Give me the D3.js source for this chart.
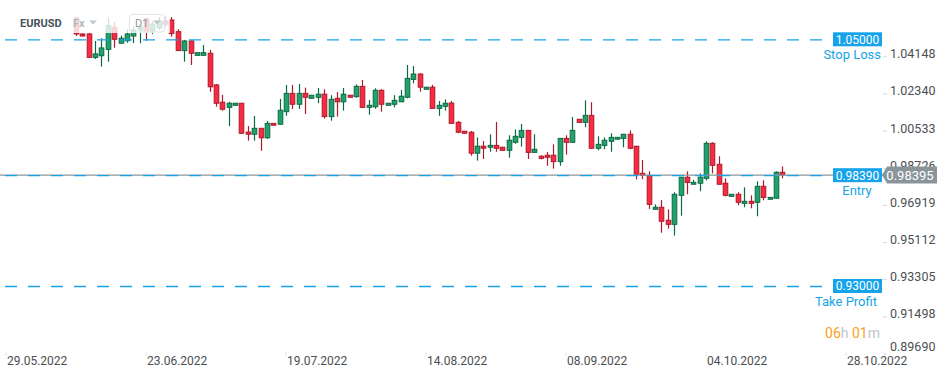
<!DOCTYPE html>
<html>
<head>
<meta charset="utf-8">
<script src="https://cdn.jsdelivr.net/npm/d3@7"></script>
<style>
  body { margin: 0; background: #fff; }
  #chart { width: 949px; height: 378px; }
  text { font-family: Roboto, "Noto Sans", sans-serif; }
</style>
</head>
<body>
<div id="chart"></div>
<script>

/*
DATA (EURUSD, D1 candles)
*/
const symbol = "EURUSD";
const timeframe = "D1";

const open = [1.0604,1.0526,1.0526,1.0412,1.0420,1.0451,1.0558,1.0481,1.0493,1.0516,1.0545,1.0599,1.0540,1.0555,1.0589,1.0594,1.0537,1.0445,1.0492,1.0422,
  1.0422,1.0432,1.0278,1.0194,1.0169,1.0179,1.0189,1.0049,1.0038,1.0067,1.0021,1.0091,1.0087,1.0148,1.0237,1.0184,1.0237,1.0213,1.0218,1.0233,
  1.0124,1.0213,1.0196,1.0228,1.0221,1.0271,1.0169,1.0172,1.0252,1.0179,1.0184,1.0196,1.0218,1.0305,1.0331,1.0257,1.0267,1.0164,1.0174,1.0190,
  1.0096,1.0053,1.0048,0.9946,0.9980,0.9975,0.9984,0.9975,0.9960,0.9999,1.0023,1.0057,0.9950,0.9931,0.9936,0.9936,0.9905,1.0018,0.9999,1.0111,
  1.0096,1.0130,0.9970,0.9984,1.0004,1.0014,1.0018,1.0038,0.9980,0.9848,0.9838,0.9673,0.9683,0.9620,0.9600,0.9741,0.9829,0.9795,0.9800,0.9824,
  0.9994,0.9892,0.9800,0.9736,0.9746,0.9702,0.9712,0.9707,0.9785,0.9722,0.9727,0.9853];

const high = [1.0608,1.0528,1.0531,1.0492,1.0505,1.0605,1.0583,1.0518,1.0550,1.0565,1.0570,1.0604,1.0589,1.0608,1.0613,1.0608,1.0549,1.0497,1.0494,1.0436,
  1.0472,1.0448,1.0283,1.0229,1.0196,1.0190,1.0190,1.0078,1.0127,1.0069,1.0103,1.0093,1.0210,1.0278,1.0278,1.0283,1.0265,1.0229,1.0263,1.0257,
  1.0228,1.0244,1.0263,1.0229,1.0281,1.0302,1.0205,1.0262,1.0257,1.0190,1.0228,1.0253,1.0375,1.0370,1.0335,1.0268,1.0278,1.0200,1.0208,1.0200,
  1.0103,1.0054,1.0054,1.0023,1.0005,1.0038,1.0098,0.9976,1.0033,1.0062,1.0088,1.0059,1.0038,0.9936,0.9952,0.9989,1.0020,1.0033,1.0122,1.0112,
  1.0203,1.0194,1.0028,1.0023,1.0043,1.0025,1.0040,1.0057,0.9981,0.9913,0.9858,0.9697,0.9718,0.9673,0.9756,0.9830,0.9858,0.9816,0.9848,1.0004,
  0.9999,0.9931,0.9824,0.9748,0.9756,0.9780,0.9741,0.9809,0.9814,0.9733,0.9858,0.9882];

const low = [1.0516,1.0514,1.0411,1.0404,1.0367,1.0391,1.0459,1.0480,1.0483,1.0482,1.0481,1.0493,1.0526,1.0545,1.0560,1.0513,1.0443,1.0391,1.0375,1.0421,
  1.0421,1.0245,1.0172,1.0153,1.0078,1.0178,1.0039,1.0007,1.0007,0.9958,1.0015,1.0081,1.0086,1.0128,1.0161,1.0161,1.0137,1.0212,1.0189,1.0114,
  1.0104,1.0124,1.0153,1.0217,1.0216,1.0168,1.0133,1.0162,1.0148,1.0178,1.0169,1.0195,1.0213,1.0286,1.0245,1.0256,1.0163,1.0128,1.0153,1.0090,
  1.0043,1.0042,0.9934,0.9910,0.9918,0.9953,0.9953,0.9959,0.9924,0.9992,0.9978,0.9918,0.9949,0.9916,0.9885,0.9871,0.9885,0.9939,0.9998,1.0095,
  1.0072,0.9969,0.9960,0.9965,0.9953,1.0013,0.9975,0.9965,0.9819,0.9819,0.9675,0.9672,0.9559,0.9579,0.9545,0.9642,0.9746,0.9794,0.9761,0.9814,
  0.9848,0.9794,0.9736,0.9735,0.9693,0.9683,0.9678,0.9639,0.9717,0.9721,0.9726,0.9824];

const close = [1.0526,1.0516,1.0412,1.0429,1.0458,1.0566,1.0500,1.0505,1.0526,1.0545,1.0560,1.0536,1.0574,1.0589,1.0574,1.0528,1.0445,1.0492,1.0432,1.0435,
  1.0435,1.0269,1.0189,1.0160,1.0189,1.0189,1.0043,1.0038,1.0067,1.0021,1.0091,1.0082,1.0155,1.0237,1.0184,1.0237,1.0218,1.0228,1.0233,1.0124,
  1.0208,1.0196,1.0233,1.0218,1.0271,1.0169,1.0179,1.0252,1.0184,1.0189,1.0203,1.0223,1.0310,1.0331,1.0267,1.0267,1.0164,1.0179,1.0189,1.0091,
  1.0048,1.0043,0.9946,0.9980,0.9970,0.9984,0.9970,0.9960,1.0009,1.0028,1.0057,0.9950,0.9965,0.9921,0.9926,0.9905,1.0018,0.9999,1.0057,1.0096,
  1.0130,0.9970,0.9989,1.0009,1.0023,1.0023,1.0038,0.9970,0.9843,0.9838,0.9697,0.9683,0.9615,0.9600,0.9746,0.9829,0.9804,0.9804,0.9829,0.9994,
  0.9887,0.9795,0.9741,0.9746,0.9707,0.9712,0.9702,0.9785,0.9731,0.9731,0.9853,0.9840];

// bar offsets (from first candle) where a date label sits, and the labels
const dateTickBars = [-11, 11, 33, 55, 77, 99, 121];
const dateTickLabels = ["29.05.2022", "23.06.2022", "19.07.2022", "14.08.2022", "08.09.2022", "04.10.2022", "28.10.2022"];

const priceTicks = [1.04148, 1.02340, 1.00533, 0.98726, 0.96919, 0.95112, 0.93305, 0.91498, 0.89690];

const levelPrices = [1.05000, 0.98390, 0.93000];
const levelNames = ["Stop Loss", "Entry", "Take Profit"];

const currentPrice = 0.98395;
const timerHours = "06";
const timerMinutes = "01";

/*
DIMENSIONS AND SVG
*/
const width = 949;
const height = 378;
const axisX = 883;

const svg = d3.select("#chart")
    .append("svg")
    .attr("width", width)
    .attr("height", height);

const candles = open.map(function(o, i) {
    return {i: i, open: o, high: high[i], low: low[i], close: close[i]};
});

/*
SCALES
*/
const xScale = d3.scaleLinear()
    .domain([-11, 121])
    .range([6, 846]);

const yScale = d3.scaleLinear()
    .domain([1.05, 0.93])
    .range([39.3, 286]);

const fmt = d3.format(".5f");

const blue = "#16a3e9";
const upFill = "#21a26c", upLine = "#0b6a42";
const downFill = "#f72c43", downLine = "#b0182b";

/*
PRICE AXIS (right)
*/
const yAxis = svg.append("g").attr("class", "axis");

yAxis.selectAll("line")
    .data(priceTicks)
    .enter()
    .append("line")
    .attr("x1", axisX).attr("x2", axisX + 4)
    .attr("y1", function(d) { return yScale(d); })
    .attr("y2", function(d) { return yScale(d); })
    .attr("stroke", "#d4d8db");

yAxis.selectAll("text")
    .data(priceTicks)
    .enter()
    .append("text")
    .attr("x", axisX + 7)
    .attr("y", function(d) { return Math.min(yScale(d) - 3, 347); })
    .attr("dy", "0.35em")
    .attr("font-size", "12.5px")
    .attr("fill", "#4b4f52")
    .text(function(d) { return fmt(d); });

/*
DATE AXIS (bottom)
*/
const xAxis = svg.append("g").attr("class", "axis");

xAxis.selectAll("line")
    .data(dateTickBars)
    .enter()
    .append("line")
    .attr("x1", function(d) { return xScale(d); })
    .attr("x2", function(d) { return xScale(d); })
    .attr("y1", 352).attr("y2", 356)
    .attr("stroke", "#e2e5e7");

xAxis.selectAll("text")
    .data(dateTickBars)
    .enter()
    .append("text")
    .attr("x", function(d) { return xScale(d) + 1; })
    .attr("y", 365)
    .attr("font-size", "12px")
    .attr("fill", "#4b4f52")
    .text(function(d, i) { return dateTickLabels[i]; });

/*
CANDLES
*/
const bodyW = 4.6;

const candle = svg.append("g")
    .selectAll("g")
    .data(candles)
    .enter()
    .append("g");

candle.append("line")
    .attr("x1", function(d) { return Math.round(xScale(d.i)) + 0.5; })
    .attr("x2", function(d) { return Math.round(xScale(d.i)) + 0.5; })
    .attr("y1", function(d) { return yScale(d.high); })
    .attr("y2", function(d) { return yScale(d.low); })
    .attr("stroke", function(d) { return d.close >= d.open ? upLine : downLine; })
    .attr("stroke-width", 1.2);

candle.append("rect")
    .attr("x", function(d) { return Math.round(xScale(d.i)) + 0.5 - bodyW / 2; })
    .attr("y", function(d) { return yScale(Math.max(d.open, d.close)); })
    .attr("width", bodyW)
    .attr("height", function(d) { return Math.max(1.5, Math.abs(yScale(d.open) - yScale(d.close))); })
    .attr("fill", function(d) { return d.close >= d.open ? upFill : downFill; })
    .attr("stroke", function(d) { return d.close >= d.open ? upLine : downLine; })
    .attr("stroke-width", 1);

/*
ORDER LEVELS (dashed) AND CURRENT PRICE LINE
*/
svg.append("line")
    .attr("x1", 0).attr("x2", axisX)
    .attr("y1", yScale(currentPrice)).attr("y2", yScale(currentPrice))
    .attr("stroke", "#8c969b")
    .attr("stroke-width", 1.2);

svg.selectAll(".level")
    .data(levelPrices)
    .enter()
    .append("line")
    .attr("class", "level")
    .attr("x1", 0).attr("x2", 833)
    .attr("y1", function(d) { return yScale(d) + 0.5; })
    .attr("y2", function(d) { return yScale(d) + 0.5; })
    .attr("stroke", blue)
    .attr("stroke-width", 1.3)
    .attr("stroke-dasharray", "12,11")
    .attr("stroke-dashoffset", -5);

const levelBox = svg.selectAll(".levelBox")
    .data(levelPrices)
    .enter()
    .append("g")
    .attr("class", "levelBox")
    .attr("transform", function(d) { return `translate(833,${yScale(d)})`; });

levelBox.append("rect")
    .attr("x", 0).attr("y", -7)
    .attr("width", 49).attr("height", 14)
    .attr("fill", blue);

levelBox.append("text")
    .attr("x", 24.5).attr("y", 0)
    .attr("dy", "0.36em")
    .attr("text-anchor", "middle")
    .attr("font-size", "12px")
    .attr("fill", "#fff")
    .text(function(d) { return fmt(d); });

levelBox.append("text")
    .attr("x", function(d, i) { return [48, 24, 44][i]; })
    .attr("y", 15.5)
    .attr("dy", "0.35em")
    .attr("text-anchor", function(d, i) { return i === 1 ? "middle" : "end"; })
    .attr("font-size", "13px")
    .attr("fill", blue)
    .text(function(d, i) { return levelNames[i]; });

// current price marker on the axis
const cy = yScale(currentPrice);
svg.append("path")
    .attr("d", `M${axisX - 1},${cy} L${axisX + 4},${cy - 8.5} L937,${cy - 8.5} L937,${cy + 8.5} L${axisX + 4},${cy + 8.5} Z`)
    .attr("fill", "#8a9599");

svg.append("text")
    .attr("x", 910).attr("y", cy)
    .attr("dy", "0.36em")
    .attr("text-anchor", "middle")
    .attr("font-size", "13px")
    .attr("fill", "#fff")
    .text(fmt(currentPrice));

/*
HEADER (symbol / type / timeframe) over a light veil
*/
svg.append("rect")
    .attr("x", 0).attr("y", 0)
    .attr("width", 170).attr("height", 33)
    .attr("fill", "#fff")
    .attr("opacity", 0.8);

svg.append("text")
    .attr("x", 20).attr("y", 27)
    .attr("font-size", "11px")
    .attr("font-weight", "bold")
    .attr("fill", "#47535b")
    .text(symbol);

svg.append("text")
    .attr("x", 73).attr("y", 27)
    .attr("font-size", "11px")
    .attr("font-weight", "bold")
    .attr("fill", "#b0b8bd")
    .text("Fx");

svg.append("path")
    .attr("d", "M89,20.5 L97,20.5 L93,24.5 Z")
    .attr("fill", "#c0c6ca");

svg.append("rect")
    .attr("x", 129.5).attr("y", 14.5)
    .attr("width", 35).attr("height", 17.5)
    .attr("rx", 3)
    .attr("fill", "none")
    .attr("stroke", "#e1e4e6");

svg.append("text")
    .attr("x", 135).attr("y", 27)
    .attr("font-size", "11px")
    .attr("fill", "#8d979d")
    .text(timeframe);

svg.append("path")
    .attr("d", "M153,20.5 L161,20.5 L157,24.5 Z")
    .attr("fill", "#c0c6ca");

/*
CANDLE TIMER
*/
const timer = svg.append("text")
    .attr("x", 880).attr("y", 338)
    .attr("text-anchor", "end")
    .attr("font-size", "14px");
timer.append("tspan").attr("fill", "#f7a21b").text(timerHours);
timer.append("tspan").attr("fill", "#bfc4c7").text("h ");
timer.append("tspan").attr("fill", "#f7a21b").text(timerMinutes);
timer.append("tspan").attr("fill", "#bfc4c7").text("m");

</script>
</body>
</html>
